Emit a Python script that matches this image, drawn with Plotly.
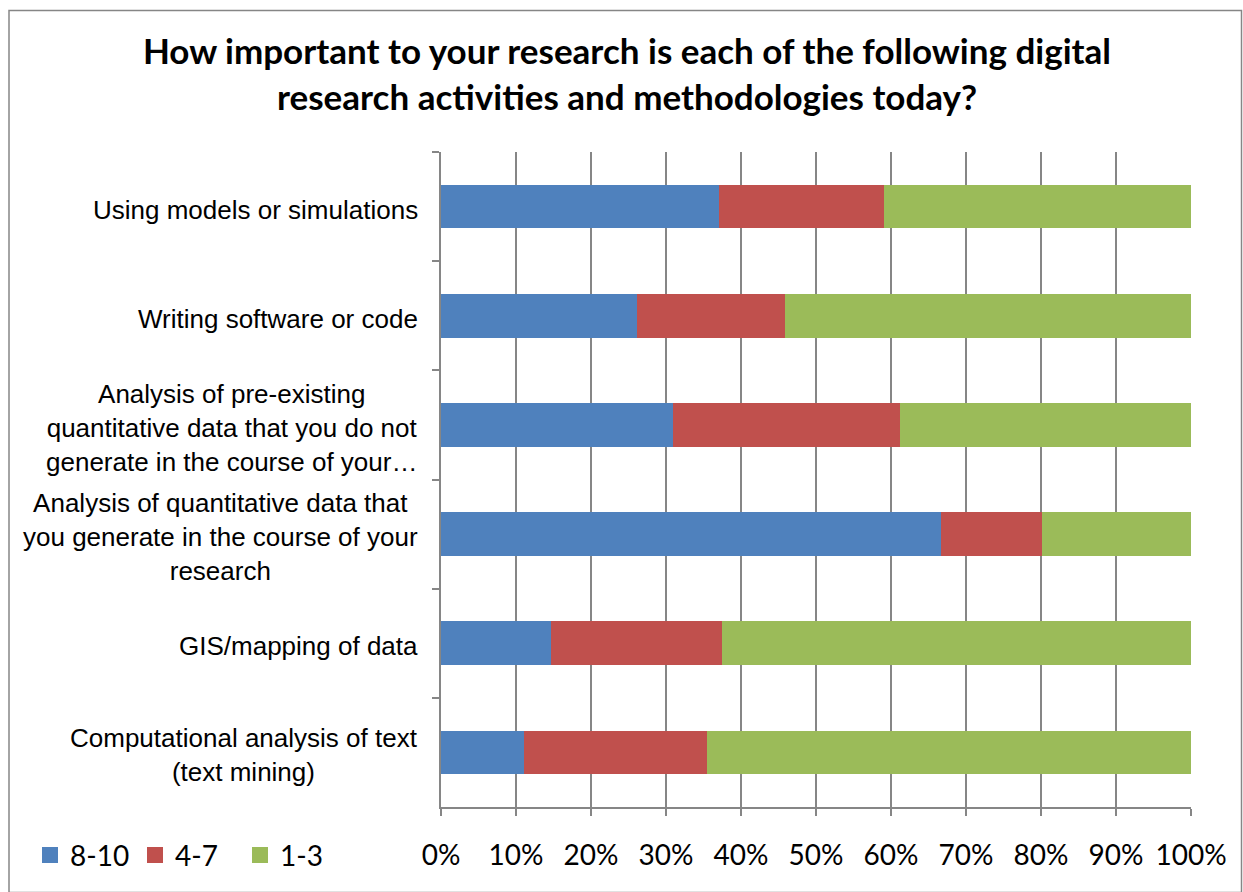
import plotly.graph_objects as go

categories = [
    "Using models or simulations",
    "Writing software or code",
    "Analysis of pre-existing<br>quantitative data that you do not<br>generate in the course of your…",
    "Analysis of quantitative data that<br>you generate in the course of your<br>research",
    "GIS/mapping of data",
    "Computational analysis of text<br>(text mining)",
]
series_names = ["8-10", "4-7", "1-3"]
high = [0.370, 0.261, 0.309, 0.667, 0.146, 0.111]
mid = [0.220, 0.198, 0.303, 0.134, 0.229, 0.243]
low = [0.410, 0.541, 0.388, 0.199, 0.625, 0.646]
colors = ["#4F81BD", "#C0504D", "#9BBB59"]
x_ticks = [0, 0.1, 0.2, 0.3, 0.4, 0.5, 0.6, 0.7, 0.8, 0.9, 1.0]
x_tick_labels = ["0%", "10%", "20%", "30%", "40%", "50%", "60%", "70%", "80%", "90%", "100%"]

title_text = ("How important to your research is each of the following digital<br>"
              "research activities and methodologies today?")

W, H = 1243, 892
PL, PR, PT, PB = 441, 1191, 152, 818  # plot area edges in px

fig = go.Figure()
for name, vals, col in zip(series_names, [high, mid, low], colors):
    fig.add_trace(go.Bar(
        y=categories, x=vals, name=name, orientation="h",
        marker=dict(color=col, line=dict(width=0)),
        showlegend=False,
    ))
for name, col in zip(series_names, colors):
    fig.add_trace(go.Scatter(
        x=[None], y=[None], mode="markers", name=name,
        marker=dict(symbol="square", size=16, color=col),
        showlegend=True,
    ))

pw = PR - PL
ph = PB - PT
for cat in categories:
    fig.add_annotation(
        x=(420 - PL) / pw, xref="paper", y=cat, yref="y", yshift=-3,
        text=cat, showarrow=False, xanchor="right", yanchor="middle",
        align="center",
        font=dict(family="Liberation Sans, Arial, sans-serif", size=26, color="#000000"),
    )

fig.update_layout(
    width=W, height=H,
    paper_bgcolor="white", plot_bgcolor="white",
    margin=dict(l=PL, r=W - PR, t=PT, b=H - PB),
    barmode="stack", bargap=0.6,
    title=dict(text=title_text, x=627 / W, xref="container", xanchor="center",
               y=1 - 64 / H, yref="container", yanchor="middle",
               font=dict(family="Lato, Carlito, sans-serif", size=35, color="#000000", weight="bold")),
    xaxis=dict(range=[0, 1], tickvals=x_ticks, ticktext=x_tick_labels,
               showgrid=True, gridcolor="#868686", gridwidth=1.5,
               showline=True, linecolor="#868686", linewidth=1.5,
               ticks="outside", ticklen=7, tickcolor="#868686", tickwidth=1.5,
               zeroline=False, ticklabelstandoff=16,
               tickfont=dict(family="Lato, Carlito, sans-serif", size=28, color="#000000")),
    yaxis=dict(autorange="reversed", type="category", categoryorder="array", categoryarray=categories,
               showticklabels=False, showline=True, linecolor="#868686", linewidth=1.5,
               ticks="outside", ticklen=7, tickcolor="#868686", tickwidth=1.5,
               tickson="boundaries", showgrid=False, zeroline=False),
    legend=dict(orientation="h", x=(30 - PL) / pw, xanchor="left",
                y=-(867 - PB) / ph, yanchor="middle", traceorder="normal",
                font=dict(family="Lato, Carlito, sans-serif", size=28, color="#000000"),
                itemwidth=30, entrywidth=60, entrywidthmode="pixels",
                tracegroupgap=0, bgcolor="rgba(0,0,0,0)"),
    shapes=[dict(type="rect", xref="paper", yref="paper",
                 x0=(9 - PL) / pw, x1=(1241.5 - PL) / pw,
                 y0=-(905 - PB) / ph, y1=1 + (PT - 8) / ph,
                 line=dict(color="#868686", width=1.5), fillcolor="rgba(0,0,0,0)", layer="below")],
)

fig.write_html("out.html", config={"displayModeBar": False},
               post_script="document.body.style.margin='0';document.body.style.overflow='hidden';")
